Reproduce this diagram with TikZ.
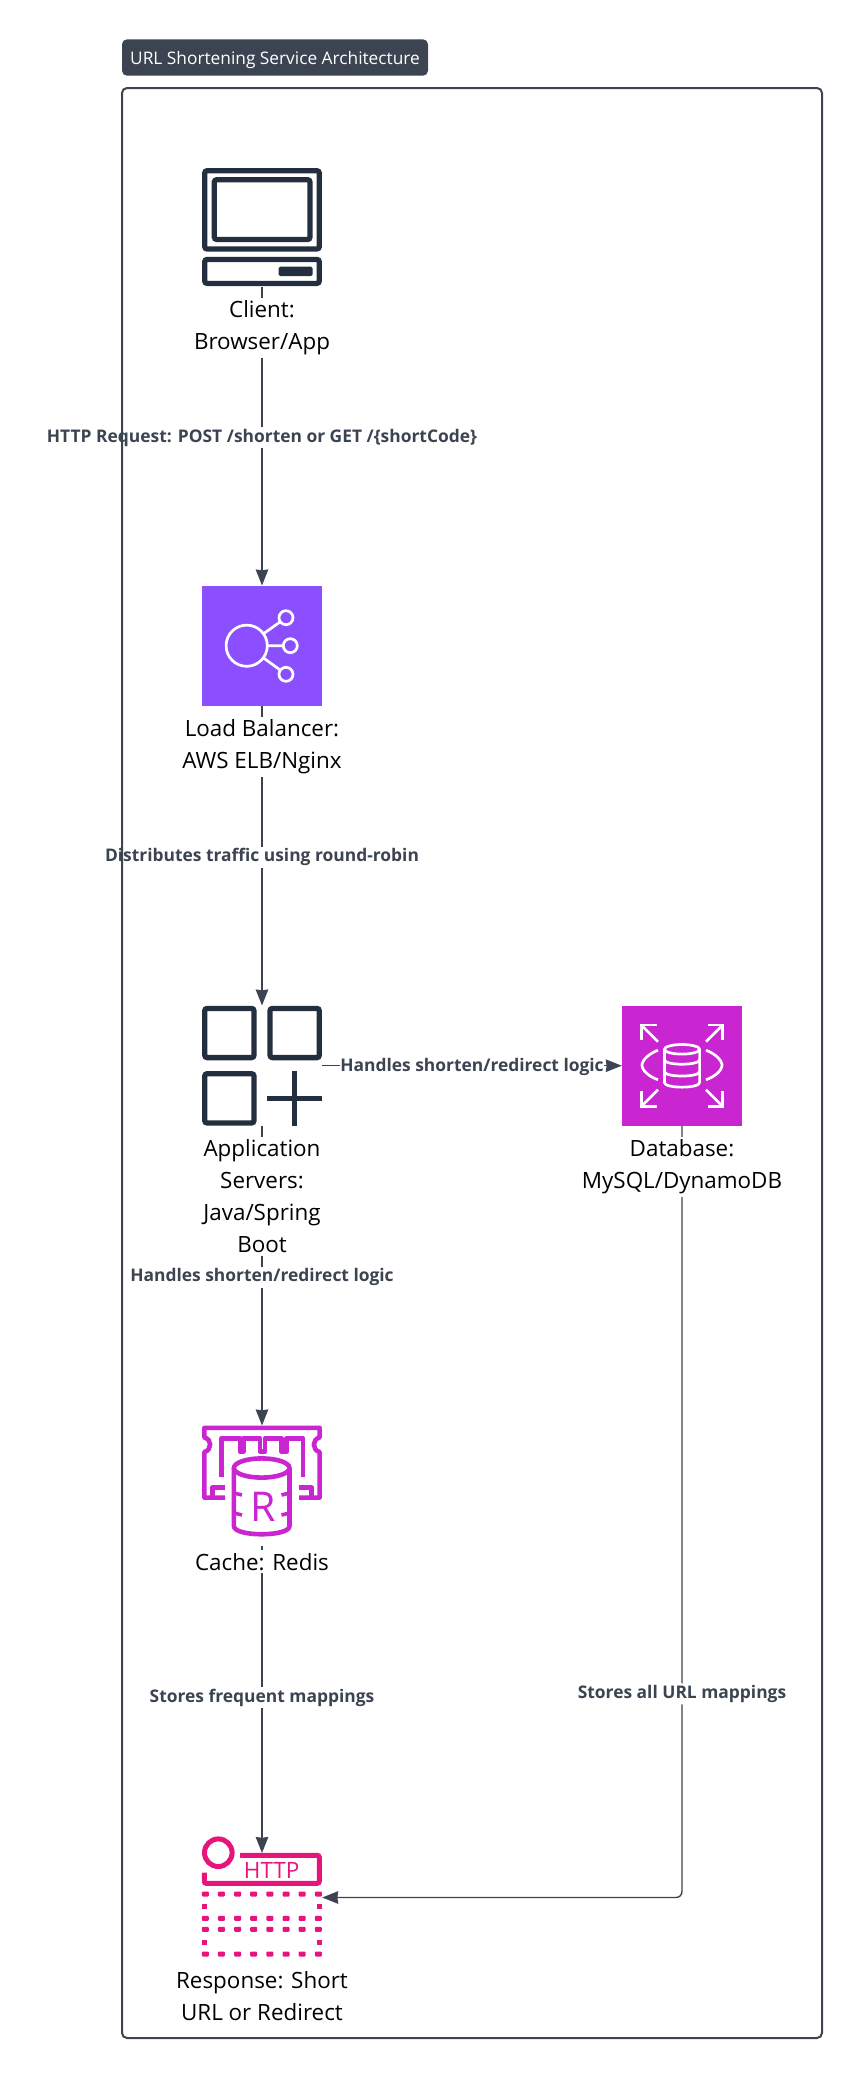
\documentclass[tikz,border=0pt]{standalone}
\usepackage{fontspec}
\setmainfont{Open Sans}
\usetikzlibrary{arrows.meta,positioning}

\definecolor{slateline}{HTML}{3B4450}
\definecolor{inkicon}{HTML}{232F3E}
\definecolor{lbpurple}{HTML}{8C4FFF}
\definecolor{dbmagenta}{HTML}{C925D1}
\definecolor{httppink}{HTML}{E7157B}

\begin{document}
\begin{tikzpicture}[x=1pt, y=-1pt]
    % One unit is one pixel of the reference
    \useasboundingbox (0,0) rectangle (862,2078);

    \tikzset{
        c_frame/.style={draw=slateline, line width=2pt, rounded corners=5pt},
        c_title/.style={fill=slateline, rounded corners=5pt, text=white, inner sep=0pt,
            minimum width=306pt, minimum height=36.4pt, text height=16pt, text depth=1.5pt,
            font=\fontsize{17.3}{20}\selectfont},
        c_icon/.style={minimum size=120pt, inner sep=0pt},
        c_name/.style={fill=white, align=center, inner ysep=3pt, inner xsep=0pt,
            text=black, font=\fontsize{22.4}{32}\selectfont},
        c_conn/.style={draw=slateline, line width=1.4pt,
            -{Stealth[length=16pt, width=12.5pt, inset=0.8pt]}},
        c_edge/.style={fill=white, text=slateline, inner xsep=0pt, inner ysep=0pt,
            minimum height=21pt, yshift=-1.5pt, font=\fontsize{17.4}{20}\selectfont\bfseries},
        c_ink/.style={draw=inkicon, line width=5.3pt, rounded corners=2.5pt},
        c_wht/.style={draw=white, line width=2.7pt, line cap=round, line join=round},
        c_red/.style={draw=dbmagenta, line width=4.6pt, line join=round},
        c_pnk/.style={draw=httppink, line width=5pt}
    }

    % Ô biểu tượng
    \node[c_icon] (client) at (262,227) {};
    \node[c_icon] (lb) at (262,645.7) {};
    \node[c_icon] (app) at (262,1065.7) {};
    \node[c_icon] (db) at (682,1065.7) {};
    \node[c_icon] (cache) at (262,1485.7) {};
    \node[c_icon] (resp) at (262,1897.5) {};
    \coordinate (resp_top) at (262,1853);

    % Các đường nối
    \draw[c_conn] (client) -- node[c_edge] (e1) {HTTP Request: POST /shorten or GET /\{shortCode\}} (lb);
    \draw[c_conn] (lb) -- node[c_edge] (e2) {Distributes traffic using round-robin} (app);
    \draw[c_conn] (app) -- node[c_edge] (e3) {Handles shorten/redirect logic} (db);
    \draw[c_conn] (app) -- node[c_edge] (e4) {Handles shorten/redirect logic} (cache);
    \draw[c_conn] (cache) -- node[c_edge, pos=0.49] (e5) {Stores frequent mappings} (resp_top);
    \draw[c_conn, rounded corners=6pt] (db) |- node[c_edge, pos=0.367] (e6) {Stores all URL mappings} (resp);

    % Nhãn dưới biểu tượng
    \node[c_name, below=10.5pt of client] (client_lab) {Client:\\Browser/App};
    \node[c_name, below=10.5pt of lb] (lb_lab) {Load Balancer:\\AWS ELB/Nginx};
    \node[c_name, below=10.5pt of app] (app_lab) {Application\\Servers:\\Java/Spring\\Boot};
    \node[c_name, below=10.5pt of db] (db_lab) {Database:\\MySQL/DynamoDB};
    \node[c_name, below=4pt of cache] (cache_lab) {Cache: Redis};
    \node[c_name, below=10.5pt of resp] (resp_lab) {Response: Short\\URL or Redirect};

    % Khung và tiêu đề
    \draw[c_frame] (122,88) rectangle (822,2038);
    \node[c_title] (title) at (275,57.5) {URL Shortening Service Architecture};

    % Client
    \draw[c_ink] (204.7,170.7) rectangle (319.3,249);
    \draw[c_ink] (214.3,179.7) rectangle (310,239.5);
    \draw[c_ink] (204.7,259.4) rectangle (319.3,283.4);
    \fill[inkicon, rounded corners=1.5pt] (278.7,266.7) rectangle (312.5,276);

    % Load balancer
    \fill[lbpurple] (lb.north west) rectangle (lb.south east);
    \draw[c_wht] (246.7,645.7) -- (286,617.7) (246.7,645.7) -- (290.3,645.7) (246.7,645.7) -- (286,674.3);
    \draw[c_wht, fill=lbpurple] (246.7,645.7) circle (20.6pt);
    \foreach \p in {(286,617.7),(290.3,645.7),(286,674.3)} {
        \draw[c_wht, fill=lbpurple] \p circle (7pt);
    }

    % Application servers
    \draw[c_ink] (204.7,1008.4) rectangle (254,1057.6);
    \draw[c_ink] (270,1008.4) rectangle (319.3,1057.6);
    \draw[c_ink] (204.7,1073.7) rectangle (254,1123);
    \draw[c_ink, rounded corners=0pt] (267.3,1098.3) -- (322,1098.3) (294.7,1071) -- (294.7,1125.7);

    % Database
    \fill[dbmagenta] (db.north west) rectangle (db.south east);
    \begin{scope}[shift={(682,1065.7)}]
        \foreach \sx/\sy in {-1/-1,1/-1,-1/1,1/1} {
            \draw[c_wht, line cap=butt, line join=miter] (\sx*25.5,\sy*40.7) -- (\sx*40.7,\sy*40.7) -- (\sx*40.7,\sy*25.5);
            \draw[c_wht, line cap=butt] (\sx*40.7,\sy*40.7) -- (\sx*24,\sy*24);
        }
        \draw[c_wht] (-17.6,-16.4) -- (-17.6,16.8) .. controls (-17.6,23) and (17.6,23) .. (17.6,16.8) -- (17.6,-16.4);
        \draw[c_wht] (0,-16.4) ellipse [x radius=17.6pt, y radius=4.8pt];
        \draw[c_wht] (-17.6,-6) .. controls (-17.6,0) and (17.6,0) .. (17.6,-6);
        \draw[c_wht] (-17.6,5.8) .. controls (-17.6,11.8) and (17.6,11.8) .. (17.6,5.8);
        \draw[c_wht, line cap=butt] (-24,-15.5) .. controls (-32,-12.5) and (-40,-6) .. (-40,-0.5) .. controls (-40,5) and (-32,11.5) .. (-24,14);
        \draw[c_wht, line cap=butt] (24,-15.5) .. controls (32,-12.5) and (40,-6) .. (40,-0.5) .. controls (40,5) and (32,11.5) .. (24,14);
    \end{scope}

    % Cache
    \draw[c_red] (225,1497.6) -- (204.4,1497.6) -- (204.4,1452) .. controls (212,1450) and (212,1439) .. (204.4,1437.5) -- (204.4,1427.8)
        -- (319.6,1427.8) -- (319.6,1437.5) .. controls (312,1439) and (312,1450) .. (319.6,1452) -- (319.6,1497.6) -- (299,1497.6);
    \draw[c_red] (212.5,1497.6) -- (212.5,1487.5) -- (225,1487.5);
    \draw[c_red] (311.5,1497.6) -- (311.5,1487.5) -- (299,1487.5);
    \draw[c_red] (221.7,1477) -- (221.7,1438.3) -- (240,1438.3) -- (240,1451.7) -- (243.3,1451.7) -- (243.3,1438.3) -- (260,1438.3) -- (260,1451.7)
        -- (265,1451.7) -- (265,1438.3) -- (281.7,1438.3) -- (281.7,1451.7) -- (286.7,1451.7) -- (286.7,1438.3) -- (303,1438.3) -- (303,1477);
    \draw[c_red, fill=white] (233.9,1468) -- (233.9,1526) .. controls (233.9,1537) and (289.5,1537) .. (289.5,1526) -- (289.5,1468);
    \draw[c_red, fill=white] (261.7,1468) ellipse [x radius=27.8pt, y radius=9.6pt];
    \foreach \ty in {1493,1513} {
        \draw[c_red, line width=3.6pt] (234,\ty) -- (242,\ty+2);
        \draw[c_red, line width=3.6pt] (289.5,\ty) -- (281.5,\ty+2);
    }
    \node[text=dbmagenta, inner sep=0pt, font=\fontsize{41}{42}\selectfont] (redis_r) at (262.7,1506.5) {R};

    % Response
    \draw[c_pnk] (218.3,1852.7) circle (13.8pt);
    \draw[c_pnk, rounded corners=2pt] (240,1855.3) -- (319.3,1855.3) -- (319.3,1883.3) -- (204.3,1883.3) -- (204.3,1872.7);
    \node[text=httppink, inner sep=0pt, font=\fontsize{22.5}{24}\selectfont] (http_txt) at (271.7,1870.7) {HTTP};
    \foreach \ry in {1894,1918.3,1929.3,1954} {
        \foreach \rx in {0,...,7} {
            \fill[httppink, rounded corners=1pt] (205.3+\rx*16.14-3.5,\ry-2.5) rectangle (205.3+\rx*16.14+3.5,\ry+2.5);
        }
    }
    \foreach \ry in {1906,1942} {
        \fill[httppink] (201.8,\ry-2.5) rectangle (206.8,\ry+2.5);
        \fill[httppink] (316.8,\ry-2.5) rectangle (321.8,\ry+2.5);
    }
\end{tikzpicture}
\end{document}
